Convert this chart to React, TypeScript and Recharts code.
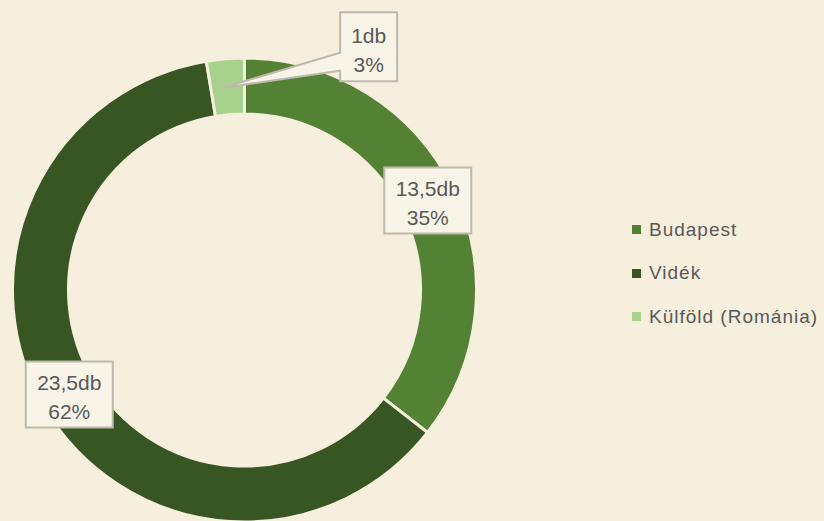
import React from "react";
import { PieChart, Pie, Cell, Legend } from "recharts";

const categories = ["Budapest", "Vidék", "Külföld (Románia)"];
const counts = [13.5, 23.5, 1];
const colors = ["#548235", "#375623", "#A9D18E"];

// kerekített százalékok, hogy összegük 100 legyen (legnagyobb maradék)
const total = counts.reduce((a, b) => a + b, 0);
const raw = counts.map((c) => (c / total) * 100);
const pcts = raw.map((v) => Math.floor(v));
const order = raw
  .map((v, i) => ({ i, rem: v - Math.floor(v) }))
  .sort((a, b) => b.rem - a.rem);
const missing = 100 - pcts.reduce((a, b) => a + b, 0);
for (let k = 0; k < missing; k++) pcts[order[k].i] += 1;

const data = categories.map((name, i) => ({ name, value: counts[i], color: colors[i], pct: pcts[i] }));

const BG = "#F6EFDD";
const TEXT = "#595959";
const FONT = "'Liberation Sans', Arial, sans-serif";
const RAD = Math.PI / 180;

// adatcímke keretben, a gyűrű közepére téve
const renderLabel = (p: any) => {
  const r = (p.innerRadius + p.outerRadius) / 2;
  const ax = p.cx + r * Math.cos(-p.midAngle * RAD);
  const ay = p.cy + r * Math.sin(-p.midAngle * RAD);
  const line1 = String(p.value).replace(".", ",") + "db";
  const line2 = data[p.index].pct + "%";
  const small = p.percent < 0.05;
  const bx = small ? ax + 141 : ax;
  const by = small ? ay - 40 : ay;
  const w = Math.max(line1.length, line2.length) * 10 + 27;
  const h = small ? 69 : 66;
  const x0 = bx - w / 2;
  const y0 = by - h / 2;
  let path = `M${x0},${y0} H${x0 + w} V${y0 + h} H${x0} Z`;
  if (small) {
    // kiemelő nyíl a kis szelethez
    path = `M${x0},${y0} H${x0 + w} V${y0 + h} H${x0} V${by + 24} L${ax - 5},${ay + 1} L${x0},${by + 6} Z`;
  }
  return (
    <g key={`lbl-${p.index}`}>
      <path d={path} fill="#F9F4E8" stroke="#BDB9AE" strokeWidth={2} strokeLinejoin="miter" />
      <text x={bx} y={by - 4} textAnchor="middle" fill={TEXT} fontSize={21} fontFamily={FONT}>
        {line1}
      </text>
      <text x={bx} y={by + 25} textAnchor="middle" fill={TEXT} fontSize={21} fontFamily={FONT}>
        {line2}
      </text>
    </g>
  );
};

const renderLegend = () => (
  <div style={{ fontFamily: FONT, fontSize: 19, color: TEXT }}>
    {data.map((d) => (
      <div
        key={d.name}
        style={{ display: "flex", alignItems: "center", height: 43.5, letterSpacing: 1 }}
      >
        <span
          style={{ display: "inline-block", width: 9, height: 9, background: d.color, marginRight: 8 }}
        ></span>
        {d.name}
      </div>
    ))}
  </div>
);

export default function App() {
  return (
    <div
      style={{
        position: "absolute",
        left: 0,
        top: 0,
        width: 824,
        height: 521,
        background: BG,
        overflow: "hidden",
      }}
    >
      <PieChart width={824} height={521} margin={{ top: 0, right: 0, bottom: 0, left: 0 }}>
        <Pie
          data={data}
          dataKey="value"
          nameKey="name"
          cx={244.5}
          cy={290}
          innerRadius={176}
          outerRadius={232}
          startAngle={90}
          endAngle={-270}
          stroke={BG}
          strokeWidth={3}
          label={renderLabel}
          labelLine={false}
          isAnimationActive={false}
        >
          {data.map((d, i) => (
            <Cell key={`cell-${i}`} fill={d.color} />
          ))}
        </Pie>
        <Legend
          layout="vertical"
          content={renderLegend}
          wrapperStyle={{ left: 632, top: 208, width: 200 }}
        />
      </PieChart>
    </div>
  );
}
